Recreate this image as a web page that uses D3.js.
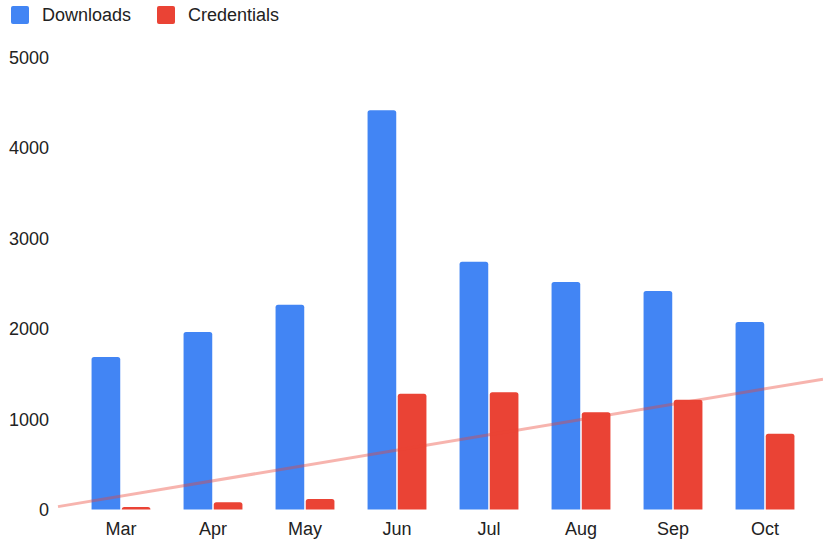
<!DOCTYPE html>
<html>
<head>
<meta charset="utf-8">
<script src="https://cdn.jsdelivr.net/npm/d3@7/dist/d3.min.js"></script>
<style>
  html, body { margin: 0; padding: 0; background: #fff; }
  svg { display: block; font-family: Arial, "Liberation Sans", sans-serif; }
</style>
</head>
<body>
<svg id="chart" width="823" height="541"></svg>
<script>
// Monthly downloads vs. credentials
const months = ["Mar", "Apr", "May", "Jun", "Jul", "Aug", "Sep", "Oct"];
const downloads = [1685, 1960, 2262, 4412, 2737, 2514, 2414, 2072];
const credentials = [28, 80, 116, 1280, 1295, 1074, 1213, 838];
const seriesNames = ["Downloads", "Credentials"];
const seriesColors = ["#4285F4", "#EA4335"];
const yTicks = [0, 1000, 2000, 3000, 4000, 5000];

const svg = d3.select("#chart");
const plot = { left: 58, right: 823, top: 57, bottom: 509.5 };

const y = d3.scaleLinear().domain([0, 5000]).range([plot.bottom, plot.top]);
const x0 = d3.scaleBand().domain(months).range([75, 811])
  .paddingInner(0.36).paddingOuter(0.18);
const x1 = d3.scaleBand().domain(seriesNames).range([0, x0.bandwidth()]).paddingInner(0.05);

// Y axis labels (no lines)
const yAxis = d3.axisLeft(y).tickValues(yTicks).tickFormat(d3.format("d")).tickSize(0).tickPadding(0);
const gy = svg.append("g").attr("transform", `translate(49,0)`).call(yAxis);
gy.select(".domain").remove();
gy.selectAll("text").attr("font-size", 18).attr("fill", "#222")
  .attr("font-family", "Arial, 'Liberation Sans', sans-serif").attr("dy", "0.36em");

// X axis labels
const xAxis = d3.axisBottom(x0).tickSize(0).tickPadding(0);
const gx = svg.append("g").attr("transform", `translate(0,522)`).call(xAxis);
gx.select(".domain").remove();
gx.selectAll("text").attr("font-size", 18).attr("fill", "#222")
  .attr("font-family", "Arial, 'Liberation Sans', sans-serif").attr("dy", "0.71em");

// Bars with slightly rounded tops
function topRounded(xp, yp, w, h, r) {
  r = Math.min(r, h, w / 2);
  return `M${xp},${yp + h}V${yp + r}Q${xp},${yp} ${xp + r},${yp}H${xp + w - r}Q${xp + w},${yp} ${xp + w},${yp + r}V${yp + h}Z`;
}
const rows = months.map((m, i) => ({ month: m, values: [downloads[i], credentials[i]] }));
const groups = svg.append("g").selectAll("g").data(rows).join("g")
  .attr("transform", d => `translate(${x0(d.month)},0)`);
groups.selectAll("path").data(d => d.values.map((v, k) => ({ key: seriesNames[k], v, k })))
  .join("path")
  .attr("fill", d => seriesColors[d.k])
  .attr("d", d => topRounded(x1(d.key), y(d.v), x1.bandwidth(), plot.bottom - y(d.v), 2.5));

// Linear trendline for credentials (least squares over month index)
const n = credentials.length;
const mx = d3.mean(d3.range(n)), my = d3.mean(credentials);
const slope = d3.sum(credentials, (v, i) => (i - mx) * (v - my)) / d3.sum(d3.range(n), i => (i - mx) ** 2);
const intercept = my - slope * mx;
const idxToPx = d3.scaleLinear().domain([0, n - 1])
  .range([x0(months[0]) + x0.bandwidth() / 2, x0(months[n - 1]) + x0.bandwidth() / 2]);
const i0 = idxToPx.invert(plot.left), i1 = idxToPx.invert(plot.right);
svg.append("line")
  .attr("x1", idxToPx(i0)).attr("y1", y(intercept + slope * i0))
  .attr("x2", idxToPx(i1)).attr("y2", y(intercept + slope * i1))
  .attr("stroke", "#EA4335").attr("stroke-opacity", 0.4).attr("stroke-width", 3);

// Legend
const legend = svg.append("g");
const legendX = [11, 157];
seriesNames.forEach((name, k) => {
  legend.append("rect").attr("x", legendX[k]).attr("y", 6).attr("width", 18).attr("height", 18)
    .attr("rx", 2).attr("fill", seriesColors[k]);
  legend.append("text").attr("x", legendX[k] + 31).attr("y", 15).attr("dy", "0.36em")
    .attr("font-size", 18).attr("fill", "#222").text(name);
});
</script>
</body>
</html>
